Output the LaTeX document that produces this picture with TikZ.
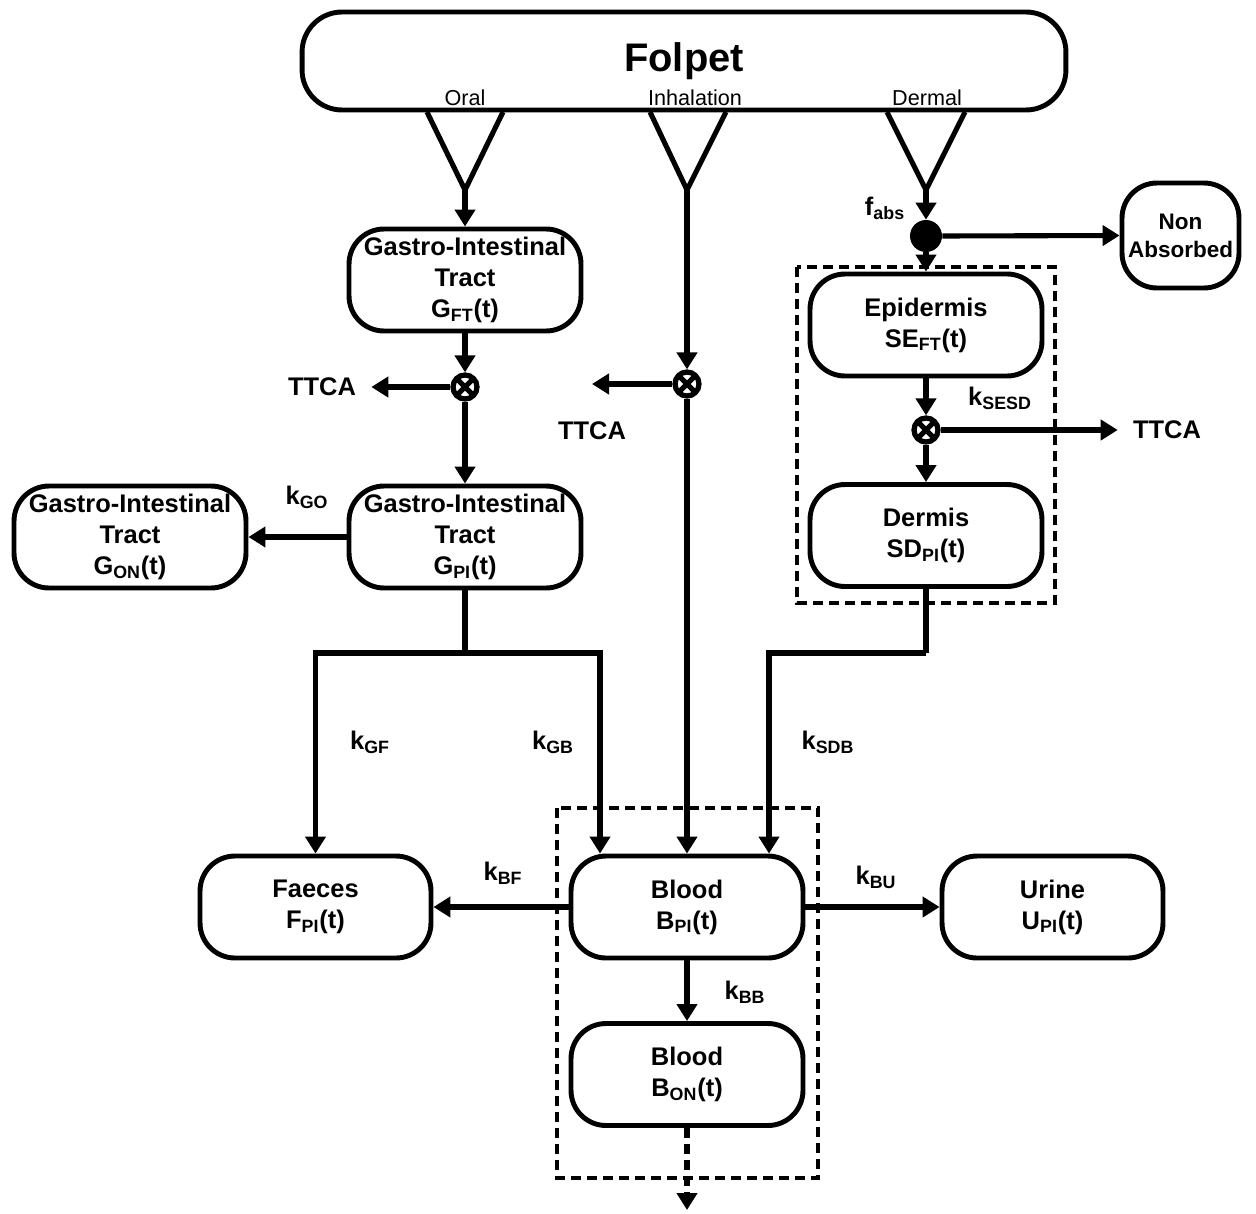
\documentclass[tikz,border=0pt]{standalone}
\usepackage{fontspec}
\setmainfont{Liberation Sans}
\usetikzlibrary{arrows.meta,positioning,calc}

\newcommand{\boxfont}{\fontsize{14.5}{17.6}\selectfont\bfseries}
\newcommand{\portfont}{\fontsize{12.3}{14}\selectfont}
\newcommand{\subtxt}[1]{\textsubscript{#1}}

\tikzset{
  compbox/.style={draw, line width=2.8pt, rounded corners=0.7cm,
    minimum width=4.64cm, minimum height=2.04cm, align=center, font=\boxfont},
  mixnode/.style={draw, circle, line width=3pt, minimum size=0.48cm, inner sep=0pt,
    path picture={\draw[line width=3pt]
      (path picture bounding box.north west) -- (path picture bounding box.south east)
      (path picture bounding box.north east) -- (path picture bounding box.south west);}},
  flow/.style={line width=2.9pt, -{Triangle[length=0.34cm,width=0.4cm]}},
  pipe/.style={line width=2.9pt},
  rate/.style={font=\boxfont},
  sink/.style={font=\boxfont, inner sep=0.3cm},
  dashframe/.style={line width=2.8pt, dash pattern=on 0.2cm off 0.12cm},
}

\begin{document}
\begin{tikzpicture}[x=0.02cm, y=-0.02cm]
  \useasboundingbox (0,0) rectangle (1256,1213);

  % source compartment and exposure routes
  \node[draw, line width=2.8pt, rounded corners=0.8cm, minimum width=15.28cm,
    minimum height=1.96cm, font=\fontsize{22.7}{26}\selectfont\bfseries] (folpet) at (684,61) {Folpet};
  \node[font=\portfont] (oral) at (465,98) {Oral};
  \node[font=\portfont] (inhal) at (695,98) {Inhalation};
  \node[font=\portfont] (dermal) at (927,98) {Dermal};

  \coordinate (oralapex) at (465,190);
  \coordinate (inhapex) at (687,190);
  \coordinate (dermapex) at (926,190);
  \draw[pipe] (427,112) -- (oralapex) -- (503,112);
  \draw[pipe] (650,112) -- (inhapex) -- (726,112);
  \draw[pipe] (887,112) -- (dermapex) -- (965,112);

  % gastro-intestinal tract
  \node[compbox] (gitft) at (465,280) {Gastro-Intestinal\\Tract\\G\subtxt{FT}(t)};
  \node[mixnode] (mixoral) at (465,387) {};
  \node[sink] (ttcaoral) at (322,387) {TTCA};
  \node[compbox] (gitpi) at (465,537) {Gastro-Intestinal\\Tract\\G\subtxt{PI}(t)};
  \node[compbox] (giton) at (130,537) {Gastro-Intestinal\\Tract\\G\subtxt{ON}(t)};

  % inhalation
  \node[mixnode] (mixinh) at (687,384) {};
  \coordinate (ttcainhend) at (592,384);
  \node[rate] (ttcainh) at (592,431) {TTCA};

  % skin
  \node[circle, fill, minimum size=0.64cm, inner sep=0pt] (fabs) at (926,236) {};
  \node[rate] (fabslbl) at (885,208) {f\subtxt{abs}};
  \node[compbox, minimum width=2.34cm, minimum height=2.1cm,
    font=\fontsize{12.8}{16}\selectfont\bfseries] (nonabs) at (1180.5,235.5) {Non\\Absorbed};
  \node[compbox] (epid) at (926,325) {Epidermis\\SE\subtxt{FT}(t)};
  \node[mixnode] (mixskin) at (926,430) {};
  \node[sink] (ttcaskin) at (1167,430) {TTCA};
  \node[compbox] (derm) at (926,535.5) {Dermis\\SD\subtxt{PI}(t)};
  \draw[dashframe] (797,267) rectangle (1055,603);

  % blood and excretion
  \node[compbox] (blood) at (687,907) {Blood\\B\subtxt{PI}(t)};
  \node[compbox] (bloodon) at (687,1074.5) {Blood\\B\subtxt{ON}(t)};
  \node[compbox, minimum width=4.62cm] (faeces) at (315.5,907) {Faeces\\F\subtxt{PI}(t)};
  \node[compbox, minimum width=4.42cm] (urine) at (1052.5,907) {Urine\\U\subtxt{PI}(t)};
  \draw[dashframe] (557,808) rectangle (818,1178);
  \coordinate (bloodout) at (687,1210);

  % flows
  \draw[flow] (oralapex) -- (gitft.north);
  \draw[flow] (gitft.south) -- (mixoral.north);
  \draw[flow] (mixoral.west) -- (ttcaoral.east);
  \draw[flow] (mixoral.south) -- (gitpi.north);
  \draw[flow] (gitpi.west) -- (giton.east);
  \coordinate (gisplit) at (465,653);
  \draw[pipe] (gitpi.south) -- (gisplit);
  \draw[flow] (gisplit) -| (faeces.north);
  \draw[flow] (gisplit) -| ([xshift=-1.74cm]blood.north);

  \draw[flow] (inhapex) -- (mixinh.north);
  \draw[flow] (mixinh.west) -- (ttcainhend);
  \draw[flow] (mixinh.south) -- (blood.north);

  \draw[flow] (dermapex) -- (fabs.north);
  \draw[flow] (fabs.east) -- (nonabs.west);
  \draw[flow] (fabs.south) -- (epid.north);
  \draw[flow] (epid.south) -- (mixskin.north);
  \draw[flow] (mixskin.east) -- (ttcaskin.west);
  \draw[flow] (mixskin.south) -- (derm.north);
  \coordinate (dermturn) at (926,653);
  \draw[pipe] (derm.south) -- (dermturn);
  \draw[flow] (dermturn) -| ([xshift=1.64cm]blood.north);

  \draw[flow] (blood.west) -- (faeces.east);
  \draw[flow] (blood.east) -- (urine.west);
  \draw[flow] (blood.south) -- (bloodon.north);
  \draw[flow, dash pattern=on 0.2cm off 0.12cm] (bloodon.south) -- (bloodout);

  % rate constants
  \node[rate] (kgo) at (307,497) {k\subtxt{GO}};
  \node[rate] (kgf) at (370,742) {k\subtxt{GF}};
  \node[rate] (kgb) at (553,742) {k\subtxt{GB}};
  \node[rate] (ksdb) at (828,742) {k\subtxt{SDB}};
  \node[rate] (ksesd) at (1000,398) {k\subtxt{SESD}};
  \node[rate] (kbf) at (503,873) {k\subtxt{BF}};
  \node[rate] (kbu) at (876,877) {k\subtxt{BU}};
  \node[rate] (kbb) at (745,992) {k\subtxt{BB}};
\end{tikzpicture}
\end{document}
